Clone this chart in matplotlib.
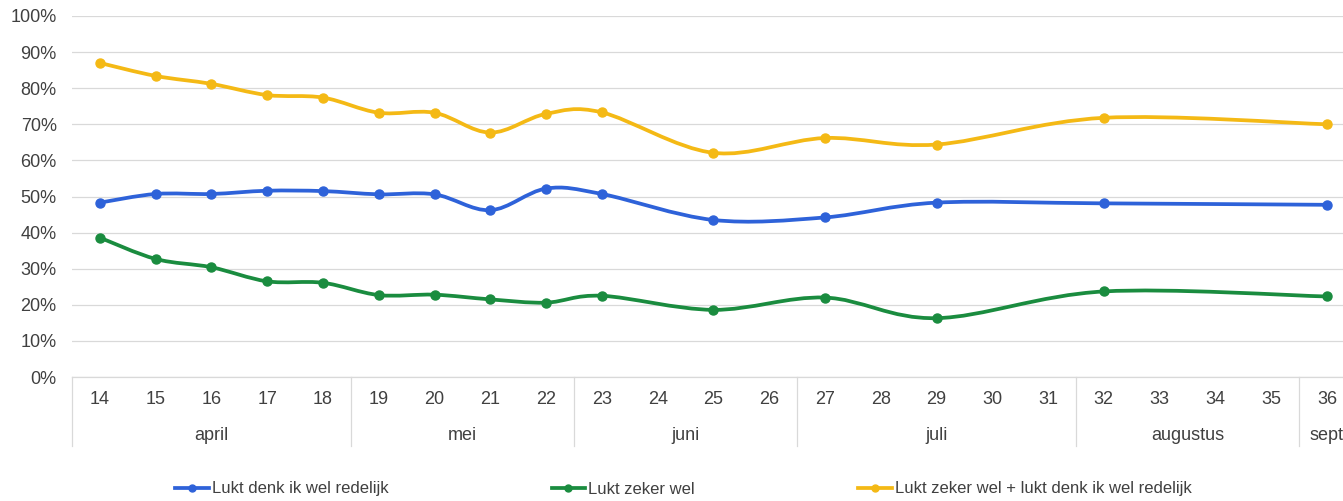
import numpy as np
import matplotlib
matplotlib.use("Agg")
import matplotlib.pyplot as plt
from matplotlib.path import Path
from matplotlib.patches import PathPatch
from matplotlib.lines import Line2D

plt.rcParams['font.family'] = ['Liberation Sans', 'DejaVu Sans']

weeks = [str(w) for w in range(14, 37)]
months = ["april", "mei", "juni", "juli", "augustus", "sept"]
month_first = ["14", "19", "23", "27", "32", "36"]
month_last = ["18", "22", "26", "31", "35", "36"]

nan = np.nan
# values in % per week 14..36 (NaN = no measurement)
redelijk = [48.3, 50.7, 50.7, 51.6, 51.5, 50.6, 50.6, 46.2, 52.2, 50.7, nan, 43.5, nan,
            44.2, nan, 48.3, nan, nan, 48.1, nan, nan, nan, 47.7]
zeker = [38.6, 32.7, 30.4, 26.5, 26.1, 22.7, 22.8, 21.5, 20.6, 22.5, nan, 18.6, nan,
         22.0, nan, 16.3, nan, nan, 23.7, nan, nan, nan, 22.3]
samen = [87.0, 83.4, 81.2, 78.1, 77.4, 73.2, 73.2, 67.7, 72.9, 73.3, nan, 62.1, nan,
         66.2, nan, 64.4, nan, nan, 71.8, nan, nan, nan, 70.0]

series = [
    ("Lukt denk ik wel redelijk", redelijk, "#2E62D9"),
    ("Lukt zeker wel", zeker, "#1A8C3F"),
    ("Lukt zeker wel + lukt denk ik wel redelijk", samen, "#F4B915"),
]

text_color = "#404040"
fs = 13

fig = plt.figure(figsize=(13.43, 5.01), dpi=100)
W, H = 1343, 501
x0, x1 = 72, 100 + 22.5 * 55.77
ax = fig.add_axes([x0 / W, 1 - 377 / H, (x1 - x0) / W, (377 - 16) / H])
ax.set_xlim(-0.5, len(weeks) - 0.5)
ax.set_ylim(0, 100)
ax.set_yticks(np.arange(0, 101, 10))
ax.set_yticklabels([f"{v}%" for v in range(0, 101, 10)])
ax.tick_params(axis='y', length=0, pad=11, labelsize=fs, labelcolor=text_color)
ax.set_xticks([])
for s in ax.spines.values():
    s.set_visible(False)
ax.grid(axis='y', color="#D9D9D9", lw=0.9)
ax.set_axisbelow(True)


def smooth_path(xs, ys):
    pts = np.column_stack([xs, ys])
    n = len(pts)
    verts = [pts[0]]
    codes = [Path.MOVETO]
    for i in range(n - 1):
        p0 = pts[i - 1] if i > 0 else pts[i]
        p1 = pts[i]
        p2 = pts[i + 1]
        p3 = pts[i + 2] if i + 2 < n else pts[i + 1]
        c1 = p1 + (p2 - p0) / 6.0
        c2 = p2 - (p3 - p1) / 6.0
        verts += [c1, c2, p2]
        codes += [Path.CURVE4] * 3
    return Path(verts, codes)


handles = []
for label, vals, col in series:
    v = np.array(vals, dtype=float)
    idx = np.arange(len(weeks))
    m = ~np.isnan(v)
    xs, ys = idx[m].astype(float), v[m]
    patch = PathPatch(smooth_path(xs, ys), facecolor='none', edgecolor=col, lw=2.7,
                      capstyle='round', joinstyle='round', transform=ax.transData, zorder=3)
    ax.add_patch(patch)
    ax.plot(xs, ys, 'o', color=col, markersize=6.5, zorder=4, linestyle='none')
    handles.append(Line2D([], [], color=col, lw=2.7, marker='o', markersize=5, label=label))

# category axis (weeks + months)
tr = ax.get_xaxis_transform()
ah = 377 - 16
ax.plot([-0.5, len(weeks) - 0.5], [0, 0], color="#D9D9D9", lw=0.9, transform=tr, clip_on=False)
for i, w in enumerate(weeks):
    ax.text(i, -(400 - 377) / ah, w, transform=tr, ha='center', va='center',
            fontsize=fs, color=text_color)
sep_bottom = -(446 - 377) / ah
ax.plot([-0.5, -0.5], [0, sep_bottom], color="#D9D9D9", lw=0.9, transform=tr, clip_on=False)
for name, a, b in zip(months, month_first, month_last):
    ia, ib = weeks.index(a), weeks.index(b)
    ax.text((ia + ib) / 2, -(435 - 377) / ah, name, transform=tr, ha='center', va='center',
            fontsize=fs, color=text_color)
    ax.plot([ib + 0.5, ib + 0.5], [0, sep_bottom], color="#D9D9D9", lw=0.9,
            transform=tr, clip_on=False)

fig.legend(handles=handles, loc='center', bbox_to_anchor=(683.5 / W, 1 - 489 / H), ncol=3,
           frameon=False, fontsize=12, handlelength=2.0, handletextpad=0.2,
           columnspacing=9.8, labelcolor=text_color)

fig.savefig("out.png", dpi=100)
